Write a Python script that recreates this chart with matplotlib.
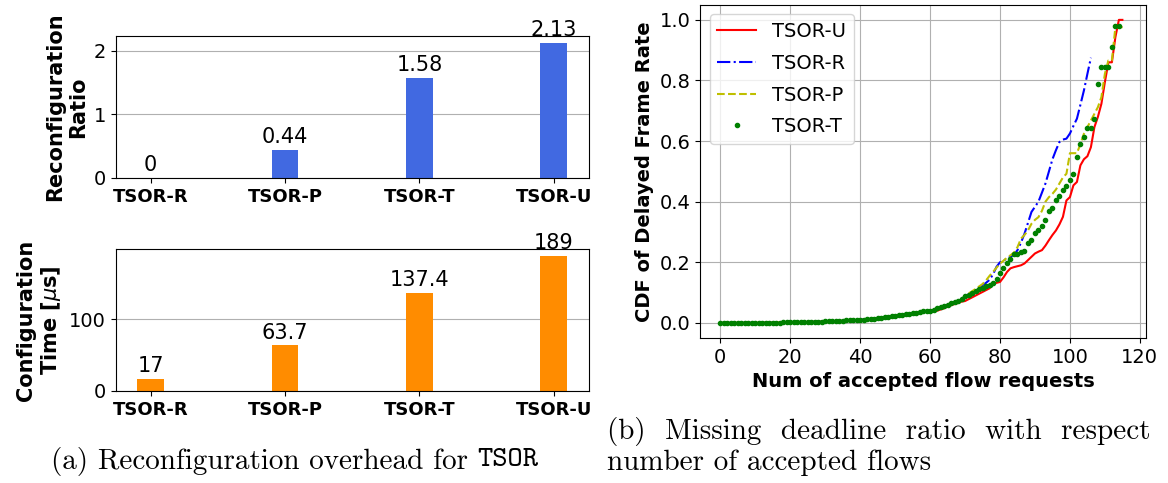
import numpy as np
import matplotlib
matplotlib.use('Agg')
import matplotlib.pyplot as plt

# bar data (left panels)
methods = ['TSOR-R', 'TSOR-P', 'TSOR-T', 'TSOR-U']
reconf_ratio = [0, 0.44, 1.58, 2.13]
config_time = [17, 63.7, 137.4, 189]

# delayed frame rate per accepted flow
low_part = [0.000, 0.000, 0.000, 0.000, 0.000, 0.000, 0.000, 0.000, 0.000, 0.000,
            0.000, 0.000, 0.001, 0.001, 0.001, 0.001, 0.001, 0.001, 0.002, 0.002,
            0.002, 0.002, 0.002, 0.003, 0.003, 0.003, 0.003, 0.004, 0.004, 0.004,
            0.005, 0.005, 0.005, 0.006, 0.006, 0.007, 0.008, 0.008, 0.009, 0.009,
            0.010, 0.011, 0.012, 0.013, 0.014, 0.015, 0.017, 0.018, 0.019, 0.021,
            0.023, 0.025, 0.026, 0.028, 0.030, 0.032, 0.034, 0.036, 0.038, 0.040]
mid_part = [0.040, 0.041, 0.050, 0.052, 0.056, 0.060, 0.064, 0.068, 0.072, 0.078]

tsor_u = low_part + [0.037, 0.038, 0.040, 0.044, 0.048, 0.054, 0.058, 0.062, 0.066, 0.070,
                     0.072, 0.078, 0.084, 0.090, 0.096, 0.102, 0.108, 0.114, 0.130, 0.132,
                     0.135, 0.150, 0.168, 0.180, 0.184, 0.187, 0.190, 0.196, 0.207, 0.218,
                     0.229, 0.235, 0.240, 0.255, 0.273, 0.290, 0.305, 0.325, 0.350, 0.404,
                     0.415, 0.454, 0.465, 0.520, 0.540, 0.550, 0.580, 0.646, 0.680, 0.723,
                     0.795, 0.860, 0.860, 0.943, 1.000, 1.000]
tsor_r = low_part + mid_part + [0.088, 0.094, 0.100, 0.108, 0.116, 0.124, 0.132, 0.142, 0.160, 0.185,
                                0.200, 0.206, 0.212, 0.218, 0.225, 0.240, 0.265, 0.294, 0.330, 0.366,
                                0.383, 0.400, 0.430, 0.460, 0.500, 0.540, 0.570, 0.597, 0.605, 0.608,
                                0.625, 0.650, 0.674, 0.720, 0.767, 0.822, 0.875]
tsor_p = low_part + mid_part + [0.090, 0.097, 0.104, 0.112, 0.120, 0.128, 0.140, 0.155, 0.168, 0.182,
                                0.196, 0.205, 0.215, 0.223, 0.232, 0.250, 0.278, 0.290, 0.305, 0.327,
                                0.340, 0.349, 0.370, 0.400, 0.415, 0.426, 0.440, 0.460, 0.480, 0.492,
                                0.560, 0.560, 0.560, 0.590, 0.624, 0.646, 0.668, 0.690, 0.712, 0.745,
                                0.822, 0.866, 0.866, 0.976, 0.976, 0.976, 0.976]
tsor_t = low_part + mid_part + [0.088, 0.093, 0.099, 0.106, 0.113, 0.116, 0.121, 0.124, 0.130, 0.146,
                                0.163, 0.180, 0.196, 0.212, 0.226, 0.226, 0.234, 0.237, 0.264, 0.275,
                                0.295, 0.305, 0.320, 0.338, 0.369, 0.380, 0.406, 0.420, 0.437, 0.452,
                                0.470, 0.492, 0.547, 0.591, 0.615, 0.644, 0.644, 0.672, 0.790, 0.846,
                                0.846, 0.846, 0.912, 0.979, 0.979]

fig = plt.figure(figsize=(11.68, 4.83), dpi=100)
ax1 = fig.add_axes([0.099, 0.6315, 0.405, 0.294])
ax2 = fig.add_axes([0.099, 0.1905, 0.405, 0.294])
ax3 = fig.add_axes([0.5993, 0.3002, 0.382, 0.690])

pos = np.arange(len(methods))
for ax, vals, col, lab in [(ax1, reconf_ratio, 'royalblue', 'Reconfiguration\nRatio'),
                           (ax2, config_time, 'darkorange', 'Configuration\nTime [$\\mu$s]')]:
    bars = ax.bar(pos, vals, width=0.2, color=col)
    ax.bar_label(bars, labels=[f'{v:g}' for v in vals], padding=2, fontsize=15)
    ax.set_axisbelow(True)
    ax.grid(axis='y')
    ax.set_xticks(pos, methods, fontweight='bold', fontsize=13)
    ax.tick_params(axis='y', labelsize=14)
    ax.set_ylabel(lab, fontweight='bold', fontsize=15)
ax1.set_yticks([0, 1, 2])
ax2.set_yticks([0, 100])

# right panel
ax3.plot(np.arange(len(tsor_u)), tsor_u, 'r-', label='TSOR-U')
ax3.plot(np.arange(len(tsor_r)), tsor_r, 'b-.', label='TSOR-R')
ax3.plot(np.arange(len(tsor_p)), tsor_p, 'y--', label='TSOR-P')
ax3.plot(np.arange(len(tsor_t)), tsor_t, 'g.', label='TSOR-T')
ax3.grid(True)
ax3.set_xticks(range(0, 121, 20))
ax3.set_yticks([0, 0.2, 0.4, 0.6, 0.8, 1.0])
ax3.tick_params(labelsize=14)
ax3.set_xlabel('Num of accepted flow requests', fontweight='bold', fontsize=14)
ax3.set_ylabel('CDF of Delayed Frame Rate', fontweight='bold', fontsize=14)
ax3.legend(loc='upper left', fontsize=14, labelspacing=0.65)

# captions (LaTeX-like, line 1 of (b) is justified so it runs off the edge)
cap_a = fig.text(51 / 1168, 1 - 461 / 483, '(a) Reconfiguration overhead for ',
                 family='cmr10', fontsize=21, va='center', ha='left')
fig.canvas.draw()
bb = cap_a.get_window_extent()
fig.text(bb.x1 / 1168, 1 - 461 / 483, 'TSOR', family='cmtt10', fontsize=21,
         va='center', ha='left')
fig.text(607 / 1168, 1 - 431 / 483, '(b)  Missing  deadline  ratio  with  respect  to  the',
         family='cmr10', fontsize=21, va='center', ha='left')
fig.text(607 / 1168, 1 - 463 / 483, 'number of accepted flows',
         family='cmr10', fontsize=21, va='center', ha='left')

fig.savefig('out.png', dpi=100)
